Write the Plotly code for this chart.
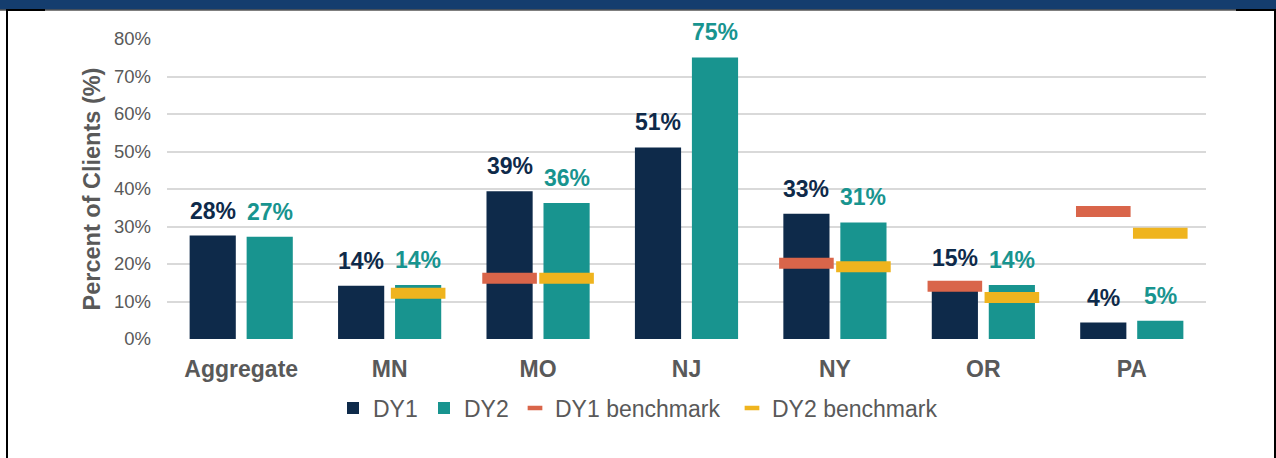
import plotly.graph_objects as go

# Share of clients per state, demonstration years 1 and 2
categories = ["Aggregate", "MN", "MO", "NJ", "NY", "OR", "PA"]
dy1 = [27.6, 14.2, 39.4, 51.1, 33.4, 15.0, 4.4]
dy2 = [27.3, 14.4, 36.3, 75.1, 31.1, 14.4, 4.9]
dy1_benchmark = [None, None, 16.2, None, 20.2, 14.1, 34.0]
dy2_benchmark = [None, 12.2, 16.2, None, 19.3, 11.1, 28.2]
y_ticks = [0, 10, 20, 30, 40, 50, 60, 70, 80]
y_tick_labels = [f"{v}%" for v in y_ticks]

NAVY = "#0E2A4A"
TEAL = "#18948F"
ORANGE = "#D9654A"
GOLD = "#EFB41E"
GREY = "#595959"
FONT = "Liberation Sans, Arial, sans-serif"

W, H = 1276, 458
L, R, T, B = 167, 70, 39, 119
PW, PH = W - L - R, H - T - B

BARGAP = 0.232
BARGROUPGAP = 0.19
OFF = (1 - BARGAP) / 4  # centre offset of each bar within its category

xs = list(range(len(categories)))
x1 = [i - OFF for i in xs]
x2 = [i + OFF for i in xs]


def px_x(p):
    return (p - L) / PW


def px_y(p):
    return (H - B - p) / PH


fig = go.Figure()
fig.add_trace(go.Bar(x=xs, y=dy1, name="DY1", legendwidth=46,
                     marker=dict(color=NAVY, line=dict(width=0))))
fig.add_trace(go.Bar(x=xs, y=dy2, name="DY2", legendwidth=46,
                     marker=dict(color=TEAL, line=dict(width=0))))

for xpos, vals, color, name in [(x1, dy1_benchmark, ORANGE, "DY1 benchmark"),
                                (x2, dy2_benchmark, GOLD, "DY2 benchmark")]:
    fig.add_trace(go.Scatter(
        x=xpos, y=vals, mode="markers", name=name, legendgroup=name, showlegend=False,
        marker=dict(symbol="line-ew", size=39, line=dict(width=11, color=color)),
        hoverinfo="skip"))
    # legend entry with a short dash
    fig.add_trace(go.Scatter(
        x=[None], y=[None], mode="markers", name=name, legendgroup=name, legendwidth=172,
        marker=dict(symbol="line-ew", size=10.5, line=dict(width=4.5, color=color))))

annotations = []
for xpos, vals, color in [(x1, dy1, NAVY), (x2, dy2, TEAL)]:
    for xv, v in zip(xpos, vals):
        annotations.append(dict(
            x=xv, y=v, xref="x", yref="y", text=f"{v:.0f}%", showarrow=False,
            yanchor="bottom", yshift=10,
            font=dict(family=FONT, size=23, color=color, weight="bold")))

shapes = [
    # header band
    dict(type="rect", xref="paper", yref="paper", x0=px_x(0), x1=px_x(W),
         y0=px_y(9.5), y1=px_y(0), fillcolor="#143D6E", line=dict(width=0), layer="above"),
    dict(type="line", xref="paper", yref="paper", x0=px_x(0), x1=px_x(W),
         y0=px_y(10), y1=px_y(10), line=dict(color="#000000", width=1)),
    dict(type="line", xref="paper", yref="paper", x0=px_x(6), x1=px_x(45),
         y0=px_y(10), y1=px_y(10), line=dict(color="#000000", width=2)),
    dict(type="line", xref="paper", yref="paper", x0=px_x(1236), x1=px_x(W),
         y0=px_y(10), y1=px_y(10), line=dict(color="#000000", width=2)),
    # frame sides
    dict(type="line", xref="paper", yref="paper", x0=px_x(7), x1=px_x(7),
         y0=px_y(9), y1=px_y(H), line=dict(color="#000000", width=2)),
    dict(type="line", xref="paper", yref="paper", x0=px_x(1275), x1=px_x(1275),
         y0=px_y(9), y1=px_y(H), line=dict(color="#000000", width=2)),
]

fig.update_layout(
    width=W, height=H,
    margin=dict(l=L, r=R, t=T, b=B),
    paper_bgcolor="white", plot_bgcolor="white",
    barmode="group", bargap=BARGAP, bargroupgap=BARGROUPGAP,
    font=dict(family=FONT, color=GREY),
    showlegend=True,
    legend=dict(orientation="h", x=px_x(333), xanchor="left", y=px_y(408), yanchor="middle",
                font=dict(family=FONT, size=23, color=GREY), traceorder="normal",
                bgcolor="rgba(0,0,0,0)"),
    annotations=annotations,
    shapes=shapes,
    xaxis=dict(range=[-0.5, len(categories) - 0.5], tickvals=xs, ticktext=categories,
               showgrid=False, zeroline=False, showline=False, ticks="",
               ticklabelstandoff=14,
               tickfont=dict(family=FONT, size=23, color=GREY, weight="bold")),
    yaxis=dict(range=[0, 80], tickvals=y_ticks, ticktext=y_tick_labels, showgrid=True,
               gridcolor="#D9D9D9", gridwidth=2, zeroline=False, showline=False,
               ticks="", ticklabelstandoff=15,
               tickfont=dict(family=FONT, size=18.5, color=GREY),
               title=dict(text="Percent of Clients (%)", standoff=6,
                          font=dict(family=FONT, size=23.5, color=GREY, weight="bold"))),
)

fig.write_html("out.html")
